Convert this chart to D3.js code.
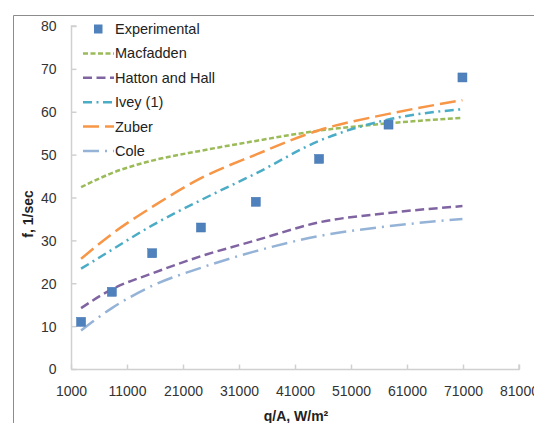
<!DOCTYPE html>
<html><head><meta charset="utf-8">
<script src="https://cdn.jsdelivr.net/npm/d3@7"></script>
<style>body{margin:0;background:#fff}svg{display:block}</style>
</head><body>
<script>
const xTicks = [1000, 11000, 21000, 31000, 41000, 51000, 61000, 71000, 81000];
const yTicks = [0, 10, 20, 30, 40, 50, 60, 70, 80];
const qx = [2800, 8300, 15500, 24200, 34000, 45300, 57700, 70900];
const experimental = [11, 18, 27, 33, 39, 49, 57, 68];
const macfadden = [42.4, 45.7, 48.6, 50.9, 53.2, 55.6, 57.3, 58.6];
const hattonHall = [14.2, 18.6, 22.3, 26.3, 30.0, 34.2, 36.4, 38.0];
const ivey = [23.4, 27.8, 33.5, 39.4, 45.6, 53.2, 58.2, 60.6];
const zuber = [25.7, 31.5, 37.8, 44.5, 50.0, 55.7, 59.5, 62.7];
const cole = [9.0, 14.2, 19.4, 23.6, 27.5, 31.0, 33.3, 35.0];

const W = 534, H = 423;
const svg = d3.select("body").append("svg").attr("width", W).attr("height", H);
const font = "'Liberation Sans', Arial, sans-serif";

// outer border
svg.append("path").attr("d", `M13.5,${H} L13.5,15.5 L${W},15.5`).attr("fill","none").attr("stroke","#8c8c8c").attr("stroke-width",1);

const x = d3.scaleLinear().domain([1000, 81000]).range([71, 519]);
const y = d3.scaleLinear().domain([0, 80]).range([369, 26]);

// axes
const axisColor = "#d0d0d0";
const xa = svg.append("g").attr("transform", "translate(0,369.5)")
  .call(d3.axisBottom(x).tickValues(xTicks).tickSize(-5).tickPadding(17).tickFormat(d3.format("d")));
const ya = svg.append("g").attr("transform", "translate(71.5,0)")
  .call(d3.axisLeft(y).tickValues(yTicks).tickSize(-5).tickPadding(15).tickFormat(d3.format("d")));
[xa, ya].forEach(a => {
  a.select(".domain").attr("stroke", axisColor).attr("stroke-width", 1.5);
  a.selectAll(".tick line").attr("stroke", axisColor).attr("stroke-width", 1.5);
  a.selectAll("text").attr("fill", "#333").style("font-family", font).style("font-size", "14px");
});
ya.selectAll("text").attr("dy", "0.35em");
xa.select(".domain").attr("d", "M71,0H519V-5");
ya.select(".domain").attr("d", "M5,26H0V369");

// axis titles
svg.append("text").attr("x", 296).attr("y", 421).attr("text-anchor","middle")
  .style("font-family", font).style("font-size","14px").style("font-weight","bold").attr("fill","#222")
  .text("q/A, W/m²");
svg.append("text").attr("transform","translate(33,214) rotate(-90)").attr("text-anchor","middle")
  .style("font-family", font).style("font-size","14px").style("font-weight","bold").attr("fill","#222")
  .text("f, 1/sec");

const series = [
  {name:"Macfadden", vals: macfadden, color:"#9bbb59", dash:"5,2.5"},
  {name:"Hatton and Hall", vals: hattonHall, color:"#8064a2", dash:"9,4.5"},
  {name:"Ivey (1)", vals: ivey, color:"#4bacc6", dash:"9,4.5,2,4.5"},
  {name:"Zuber", vals: zuber, color:"#f79646", dash:"16,6"},
  {name:"Cole", vals: cole, color:"#95b3d7", dash:"16,6,2,6"}
];
const line = d3.line().x(d => x(d[0])).y(d => y(d[1])).curve(d3.curveMonotoneX);
series.forEach(s => {
  svg.append("path").datum(qx.map((q,i)=>[q, s.vals[i]]))
    .attr("d", line).attr("fill","none").attr("stroke", s.color)
    .attr("stroke-width", 2.5).attr("stroke-dasharray", s.dash);
});

// experimental squares
svg.append("g").selectAll("rect").data(qx.map((q,i)=>[q, experimental[i]])).join("rect")
  .attr("x", d => x(d[0]) - 4.5).attr("y", d => y(d[1]) - 4.5)
  .attr("width", 9).attr("height", 9).attr("fill", "#4f81bd").attr("stroke","#4374b0").attr("stroke-width",0.5);

// legend
const lg = svg.append("g");
const ly0 = 29, ldy = 24.4;
lg.append("rect").attr("x", 94).attr("y", ly0-4.5).attr("width", 8.5).attr("height", 9).attr("fill","#4f81bd");
lg.append("text").attr("x", 115).attr("y", ly0).attr("dy","0.35em").text("Experimental");
series.forEach((s,i) => {
  const yy = ly0 + ldy*(i+1);
  lg.append("line").attr("x1", 83).attr("x2", 114).attr("y1", yy).attr("y2", yy)
    .attr("stroke", s.color).attr("stroke-width", 2.5).attr("stroke-dasharray", s.dash);
  lg.append("text").attr("x", 115).attr("y", yy).attr("dy","0.35em").text(s.name);
});
lg.selectAll("text").style("font-family", font).style("font-size","14.5px").attr("fill","#222");
</script>
</body></html>
